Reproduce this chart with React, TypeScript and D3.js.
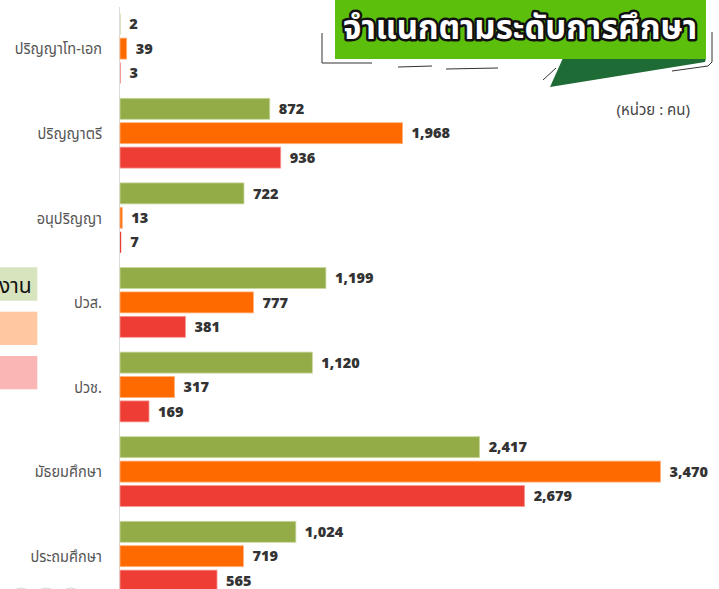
import React from 'react';
import * as d3 from 'd3';

const categories = ['ปริญญาโท-เอก', 'ปริญญาตรี', 'อนุปริญญา', 'ปวส.', 'ปวช.', 'มัธยมศึกษา', 'ประถมศึกษา'];
const seriesKeys = ['green', 'orange', 'red'];
const greenValues = [2, 872, 722, 1199, 1120, 2417, 1024];
const orangeValues = [39, 1968, 13, 777, 317, 3470, 719];
const redValues = [3, 936, 7, 381, 169, 2679, 565];
const titleText = 'จำแนกตามระดับการศึกษา';
const unitText = '(หน่วย : คน)';
const legendText = 'งาน';

const colors: Record<string, string> = { green: '#93ac47', orange: '#ff6a00', red: '#ee3d34' };
const strokes: Record<string, string> = { green: '#c9d8a0', orange: '#ffb27f', red: '#f69c97' };

const W = 719;
const H = 589;

export default function App() {
  const table = categories.map((c, i) => ({
    category: c,
    values: { green: greenValues[i], orange: orangeValues[i], red: redValues[i] } as Record<string, number>,
  }));

  const x0 = 120;
  // broken (compressed) axis as in the source infographic
  const x = d3.scaleLinear().domain([0, 1500, 1823, 3470]).range([x0, x0 + 257.6, x0 + 257.6, x0 + 540.5]);

  const step = 84.6;
  const pIn = 0.175;
  const top = 13.7;
  const y0 = d3.scaleBand<string>().domain(categories).range([top, top + step * (categories.length - pIn)]).paddingInner(pIn).paddingOuter(0);
  const y1 = d3.scaleBand<string>().domain(seriesKeys).range([0, y0.bandwidth()]).paddingInner(0.14);
  const fmt = d3.format(',');
  const thai = '"Noto Sans Thai", "Noto Sans", "DejaVu Sans", sans-serif';

  return (
    <svg width={W} height={H} style={{ position: 'absolute', left: 0, top: 0, background: '#fff' }}>
      {/* title bubble */}
      <g>
        <path d="M322,33 L322,63 L372,63" fill="none" stroke="#333" strokeWidth={1} />
        <path d="M398,67 L432,66" fill="none" stroke="#333" strokeWidth={1} />
        <path d="M446,69 L498,68" fill="none" stroke="#333" strokeWidth={1} />
        <path d="M543,80 L556,68" fill="none" stroke="#333" strokeWidth={1} />
        <path d="M672,71 L708,66 L712,62 L712,32" fill="none" stroke="#333" strokeWidth={1} />
        <polygon points="563,58 706,58 705,62 550,87" fill="#1e6b35" />
        <rect x={335} y={0} width={371} height={59} fill="#5bbf0c" />
        <text x={520} y={39} textAnchor="middle" fontFamily={thai} fontWeight={700} fontSize={33}
          fill="#fff" stroke="#111" strokeWidth={5} paintOrder="stroke" strokeLinejoin="round"
          textLength={354} lengthAdjust="spacingAndGlyphs">{titleText}</text>
      </g>
      <text x={690} y={115} textAnchor="end" fontFamily={thai} fontSize={15} fill="#444">{unitText}</text>

      {/* left legend fragments */}
      <rect x={0} y={267.3} width={37.3} height={33.4} fill="#d7e4bd" />
      <text x={-1} y={293} fontFamily={thai} fontSize={21} fill="#111">{legendText}</text>
      <rect x={0} y={311.7} width={37.3} height={33.3} fill="#ffc8a0" />
      <rect x={0} y={356} width={37.3} height={33.3} fill="#f9b6b4" />

      {/* faint circles bottom-left */}
      {[21, 46, 71].map((cx) => (
        <circle key={cx} cx={cx} cy={598} r={10} fill="none" stroke="#d6d6d6" strokeWidth={1.2} />
      ))}

      {/* axis line */}
      <line x1={x0 - 0.5} x2={x0 - 0.5} y1={7} y2={H} stroke="#dddddd" strokeWidth={1} />

      {table.map((d) => {
        const gy = y0(d.category)!;
        return (
          <g key={d.category}>
            <text transform={`translate(102,${gy + y0.bandwidth() / 2}) scale(0.88,1)`} dy="0.35em" textAnchor="end"
              fontFamily={thai} fontSize={16.5} fill="#555">{d.category}</text>
            {seriesKeys.map((k) => {
              const v = d.values[k];
              const by = gy + y1(k)!;
              const w = Math.max(x(v) - x0, 0);
              return (
                <g key={k}>
                  <rect x={x0} y={by} width={w} height={y1.bandwidth()} fill={colors[k]}
                    stroke={w > 1.5 ? strokes[k] : 'none'} strokeWidth={0.8} />
                  <text x={x(v) + 9} y={by + y1.bandwidth() / 2} dy="0.36em" fontFamily='"Open Sans", sans-serif'
                    fontWeight={800} fontSize={14.5} fill="#333">{fmt(v)}</text>
                </g>
              );
            })}
          </g>
        );
      })}
    </svg>
  );
}
